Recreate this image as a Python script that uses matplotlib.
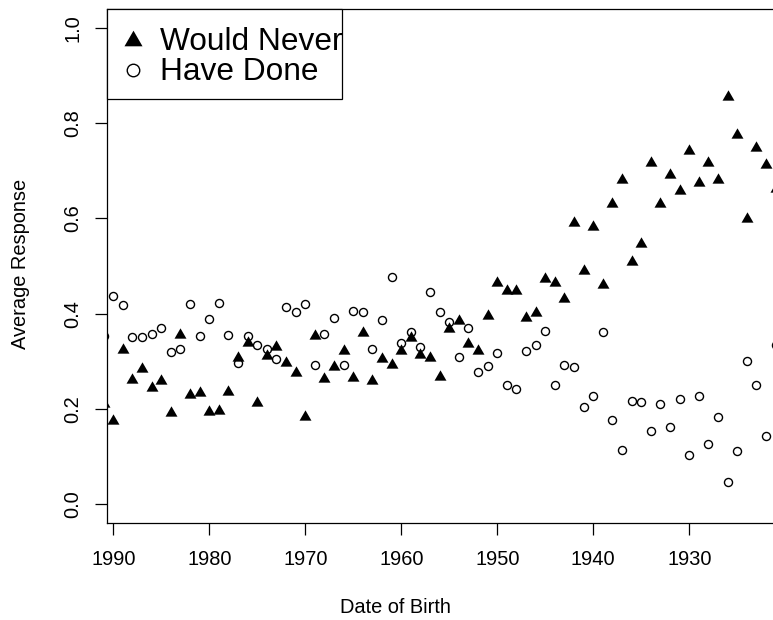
import numpy as np
import matplotlib
matplotlib.use("Agg")
import matplotlib.pyplot as plt
from matplotlib.patches import Rectangle

plt.rcParams['font.family'] = ['Liberation Sans', 'DejaVu Sans']

years = list(range(1991, 1920, -1))

would_never = [0.215, 0.178, 0.328, 0.265, 0.287, 0.248, 0.263, 0.195, 0.360, 0.234,
               0.238, 0.197, 0.200, 0.240, 0.311, 0.342, 0.217, 0.315, 0.335, 0.301,
               0.279, 0.187, 0.357, 0.266, 0.291, 0.325, 0.268, 0.363, 0.262, 0.308,
               0.296, 0.325, 0.352, 0.317, 0.311, 0.271, 0.371, 0.388, 0.341, 0.326,
               0.399, 0.469, 0.451, 0.451, 0.395, 0.406, 0.476, 0.469, 0.434, 0.595,
               0.494, 0.587, 0.464, 0.634, 0.684, 0.513, 0.550, 0.721, 0.634, 0.696,
               0.661, 0.746, 0.679, 0.721, 0.684, 0.859, 0.780, 0.602, 0.752, 0.716,
               0.665]

have_done = [0.352, 0.438, 0.418, 0.350, 0.350, 0.357, 0.369, 0.319, 0.326, 0.420,
             0.353, 0.389, 0.422, 0.355, 0.297, 0.352, 0.333, 0.326, 0.305, 0.413,
             0.403, 0.420, 0.291, 0.357, 0.391, 0.291, 0.405, 0.403, 0.325, 0.387,
             0.477, 0.339, 0.362, 0.329, 0.446, 0.403, 0.382, 0.308, 0.369, 0.277,
             0.289, 0.317, 0.249, 0.242, 0.321, 0.333, 0.363, 0.250, 0.293, 0.288,
             0.203, 0.226, 0.361, 0.176, 0.113, 0.216, 0.214, 0.154, 0.210, 0.162,
             0.220, 0.103, 0.226, 0.125, 0.182, 0.047, 0.111, 0.300, 0.250, 0.143,
             0.334]

x_ticks = [1990, 1980, 1970, 1960, 1950, 1940, 1930]
y_ticks = [0.0, 0.2, 0.4, 0.6, 0.8, 1.0]
series_labels = ["Would Never", "Have Done"]

W, H = 773, 620
fig = plt.figure(figsize=(W / 100, H / 100), dpi=100)
L, R, T, B = 107, 780, 9, 523
ax = fig.add_axes([L / W, (H - B) / H, (R - L) / W, (B - T) / H])

tri = [(-1, -0.866), (1, -0.866), (0, 0.866)]

ax.plot(years, would_never, linestyle='none', marker=tri, markersize=8.6,
        color='black', markeredgewidth=0)
ax.plot(years, have_done, linestyle='none', marker='o', markersize=5.8,
        markerfacecolor='none', markeredgecolor='black', markeredgewidth=1.0)

ax.set_xlim(1990.656, 1920.55)
ax.set_ylim(-0.04, 1.04)
ax.set_xticks(x_ticks)
ax.set_xticklabels([str(v) for v in x_ticks])
ax.set_yticks(y_ticks)
ax.set_yticklabels([f"{v:.1f}" for v in y_ticks], rotation=90, va='center')

for s in ax.spines.values():
    s.set_linewidth(0.9)
ax.tick_params(axis='both', length=8.5, width=0.9, labelsize=14.4, color='black')
ax.tick_params(axis='x', pad=11)
ax.tick_params(axis='y', pad=9.5)

ax.set_xlabel("Date of Birth", fontsize=14.4, va='top')
ax.xaxis.set_label_coords(((395 - L) / (R - L)), (B - 598) / (B - T))
ax.set_ylabel("Average Response", fontsize=14.4)
ax.yaxis.set_label_coords((30 - L) / (R - L), 0.5 + ((B + T) / 2 - 264) / (B - T))


def px(xp, yp):
    return (xp - L) / (R - L), (B - yp) / (B - T)


# legend box
x0, y0 = px(107, 98.7)
x1, y1 = px(341.7, 9.3)
ax.add_patch(Rectangle((x0, y0), x1 - x0, y1 - y0, transform=ax.transAxes,
                       facecolor='white', edgecolor='black', linewidth=0.9,
                       clip_on=False, zorder=5))
mx, my = px(133, 38.3)
ax.plot([mx], [my], transform=ax.transAxes, marker=tri, markersize=13,
        color='black', markeredgewidth=0, clip_on=False, zorder=6)
mx, my = px(133, 70)
ax.plot([mx], [my], transform=ax.transAxes, marker='o', markersize=9,
        markerfacecolor='none', markeredgecolor='black', markeredgewidth=1.0,
        clip_on=False, zorder=6)
tx, ty = px(159.5, 50)
ax.text(tx, ty, series_labels[0], transform=ax.transAxes, fontsize=22.8,
        va='baseline', ha='left', zorder=6)
tx, ty = px(159.5, 80)
ax.text(tx, ty, series_labels[1], transform=ax.transAxes, fontsize=22.8,
        va='baseline', ha='left', zorder=6)

fig.savefig("out.png", dpi=100)
